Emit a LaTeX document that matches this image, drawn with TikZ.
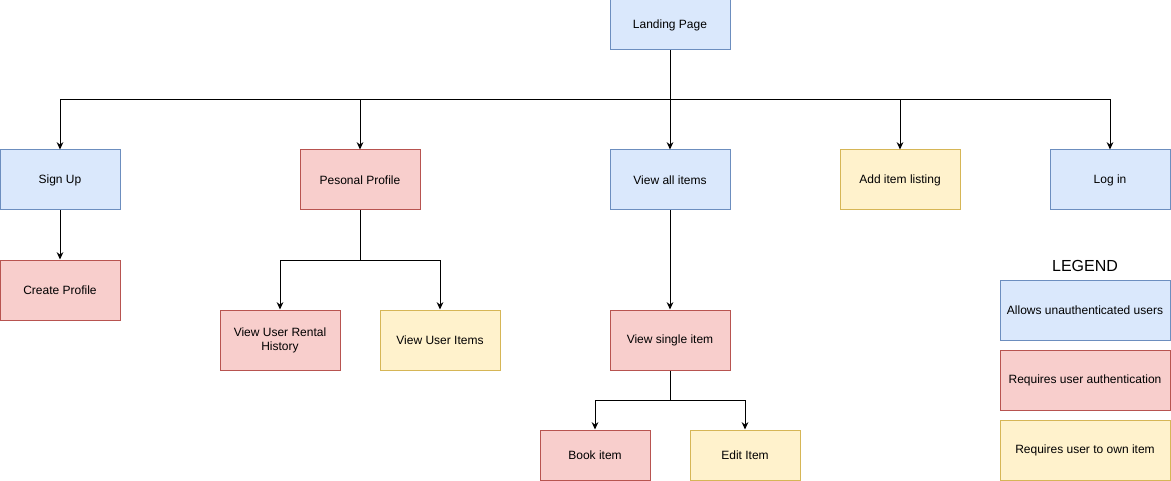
\documentclass[tikz,border=0pt]{standalone}
\usepackage{fontspec}
\setmainfont{Liberation Sans}
\usetikzlibrary{arrows.meta,positioning}

\definecolor{blueFill}{HTML}{DAE8FC}
\definecolor{blueLine}{HTML}{6C8EBF}
\definecolor{redFill}{HTML}{F8CECC}
\definecolor{redLine}{HTML}{B85450}
\definecolor{yellowFill}{HTML}{FFF2CC}
\definecolor{yellowLine}{HTML}{D6B656}

\begin{document}
\begin{tikzpicture}[x=0.75pt,y=-0.75pt]

	\tikzset{
	page/.style={draw, rectangle, minimum width=90pt, minimum height=45pt, inner sep=0pt,
		align=center, font=\fontsize{9pt}{10.5pt}\selectfont, line width=0.75pt},
	open page/.style={page, fill=blueFill, draw=blueLine},
	auth page/.style={page, fill=redFill, draw=redLine},
	own page/.style={page, fill=yellowFill, draw=yellowLine},
	small page/.style={minimum width=82.5pt, minimum height=37.5pt},
	key/.style={minimum width=127.5pt},
	link/.style={-{Stealth[length=5.5pt,width=5pt]}, line width=0.75pt}
}

\useasboundingbox (0,0) rectangle (1171,481);

\node[open page, minimum height=37.5pt](landing) at (670,25){Landing Page};

\node[open page](signup) at (60,180){Sign Up};
\node[auth page](profile) at (360,180){Pesonal Profile};
\node[open page](allitems) at (670,180){View all items};
\node[own page](additem) at (900,180){Add item listing};
\node[open page](login) at (1110,180){Log in};

\node[auth page](createprofile) at (60,290){Create Profile};
\node[auth page](rentals) at (280,340){View User Rental\\History};
\node[own page](useritems) at (440,340){View User Items};
\node[auth page](single) at (670,340){View single item};
\node[auth page, small page](book) at (595,455){Book item};
\node[own page, small page](edit) at (745,455){Edit Item};

% legend
\node[font=\fontsize{12pt}{14pt}\selectfont](legend) at (1085,266){LEGEND};
\node[open page, key](keyopen) at (1085,310){Allows unauthenticated users};
\node[auth page, key](keyauth) at (1085,380){Requires user authentication};
\node[own page, key](keyown) at (1085,450){Requires user to own item};

\coordinate (bus) at (670,100);
\coordinate (profilebus) at (360,260);
\coordinate (itembus) at (670,400);

\draw[line width=0.75pt] (landing) -- (bus);
\foreach \n in {signup,profile,allitems,additem,login}
	\draw[link] (bus) -| (\n.north);

\draw[link] (signup) -- (createprofile);

\draw[line width=0.75pt] (profile) -- (profilebus);
\draw[link] (profilebus) -| (rentals.north);
\draw[link] (profilebus) -| (useritems.north);

\draw[link] (allitems) -- (single);

\draw[line width=0.75pt] (single) -- (itembus);
\draw[link] (itembus) -| (book.north);
\draw[link] (itembus) -| (edit.north);

\end{tikzpicture}
\end{document}
